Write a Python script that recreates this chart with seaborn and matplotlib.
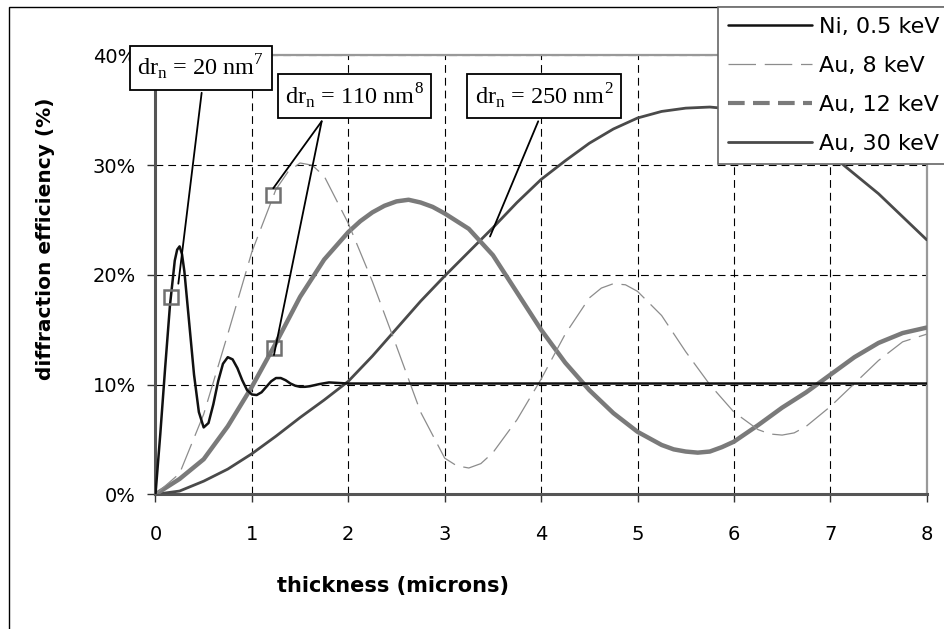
import matplotlib
matplotlib.use("Agg")
import matplotlib.pyplot as plt
import seaborn as sns
import pandas as pd
from matplotlib.lines import Line2D
from matplotlib.patches import Rectangle
from matplotlib.ticker import FuncFormatter

# ---------------- data ----------------
ni_x = [0, 0.05, 0.1, 0.15, 0.2, 0.225, 0.25, 0.275, 0.3, 0.35, 0.4, 0.45, 0.5,
        0.55, 0.6, 0.65, 0.7, 0.75, 0.8, 0.85, 0.9, 0.95, 1.0, 1.05, 1.1, 1.15,
        1.2, 1.25, 1.3, 1.35, 1.4, 1.45, 1.5, 1.55, 1.6, 1.7, 1.8, 1.9, 2.0,
        2.5, 3, 4, 5, 6, 7, 8]
ni_y = [0, 5.5, 11.5, 17.2, 21.3, 22.3, 22.6, 21.9, 20.3, 15.6, 10.9, 7.5, 6.1,
        6.5, 8.2, 10.3, 11.9, 12.5, 12.3, 11.5, 10.4, 9.5, 9.1, 9.05, 9.3, 9.8,
        10.3, 10.6, 10.6, 10.4, 10.1, 9.9, 9.8, 9.8, 9.85, 10.05, 10.2, 10.15, 10.1,
        10.1, 10.1, 10.1, 10.1, 10.1, 10.1, 10.1]

au8_x = [0, 0.25, 0.5, 0.75, 1.0, 1.25, 1.375, 1.5, 1.625, 1.75, 2.0, 2.25, 2.5,
         2.75, 3.0, 3.125, 3.25, 3.375, 3.5, 3.75, 4.0, 4.25, 4.5, 4.625, 4.75,
         4.875, 5.0, 5.25, 5.5, 5.75, 6.0, 6.25, 6.375, 6.5, 6.625, 6.75, 7.0,
         7.25, 7.5, 7.75, 8.0]
au8_y = [0, 1.9, 7.3, 14.6, 22.1, 27.8, 29.4, 30.2, 30.0, 29.0, 24.7, 19.4, 13.5,
         7.5, 3.3, 2.6, 2.4, 2.8, 3.8, 6.8, 10.5, 14.6, 17.9, 18.8, 19.2,
         19.1, 18.5, 16.3, 13.0, 10.0, 7.5, 5.9, 5.5, 5.4, 5.6, 6.2, 8.0,
         10.1, 12.2, 13.9, 14.6]

au12_x = [0, 0.25, 0.5, 0.75, 1.0, 1.25, 1.5, 1.75, 2.0, 2.125, 2.25, 2.375, 2.5,
          2.625, 2.75, 2.875, 3.0, 3.25, 3.5, 3.75, 4.0, 4.25, 4.5, 4.75, 5.0,
          5.25, 5.375, 5.5, 5.625, 5.75, 5.875, 6.0, 6.25, 6.5, 6.75, 7.0, 7.25,
          7.5, 7.75, 8.0]
au12_y = [0, 1.4, 3.2, 6.2, 9.8, 13.8, 18.0, 21.4, 23.9, 24.9, 25.7, 26.3, 26.7,
          26.85, 26.6, 26.2, 25.6, 24.2, 21.8, 18.4, 15.0, 12.0, 9.5, 7.4, 5.7,
          4.5, 4.1, 3.9, 3.8, 3.9, 4.3, 4.8, 6.3, 7.9, 9.3, 10.9, 12.5,
          13.8, 14.7, 15.2]

au30_x = [0, 0.25, 0.5, 0.75, 1.0, 1.25, 1.5, 1.75, 2.0, 2.25, 2.5, 2.75, 3.0,
          3.25, 3.5, 3.75, 4.0, 4.25, 4.5, 4.75, 5.0, 5.25, 5.5, 5.75, 6.0,
          6.25, 6.5, 6.75, 7.0, 7.25, 7.5, 7.75, 8.0]
au30_y = [0, 0.3, 1.2, 2.3, 3.7, 5.3, 7.0, 8.6, 10.3, 12.6, 15.1, 17.6, 19.9,
          22.1, 24.3, 26.6, 28.7, 30.4, 32.0, 33.3, 34.3, 34.9, 35.2, 35.3, 35.1,
          34.6, 33.8, 32.6, 31.0, 29.2, 27.4, 25.3, 23.2]

series_labels = ["Ni, 0.5 keV", "Au, 8 keV", "Au, 12 keV", "Au, 30 keV"]

marker_x = [0.158, 1.222, 1.23]
marker_y = [18.0, 27.3, 13.3]

box_texts = [r"dr$_\mathregular{n}$ = 20 nm$^\mathregular{7}$",
             r"dr$_\mathregular{n}$ = 110 nm$^\mathregular{8}$",
             r"dr$_\mathregular{n}$ = 250 nm$^\mathregular{2}$"]
box_pos = [(0.472, 38.9), (2.064, 36.3), (4.03, 36.3)]
# leader lines: (start at box, end at curve)
leaders = [((0.479, 36.6), (0.237, 19.2)),
           ((1.724, 34.0), (1.222, 27.9)),
           ((1.724, 34.0), (1.229, 12.7)),
           ((3.97, 34.0), (3.47, 23.5))]

x_ticks = [0, 1, 2, 3, 4, 5, 6, 7, 8]
y_ticks = [0, 10, 20, 30, 40]

# ---------------- style ----------------
sns.set_style("white")
plt.rcParams["font.family"] = ["DejaVu Sans"]
plt.rcParams["text.color"] = "black"
plt.rcParams["axes.labelcolor"] = "black"
plt.rcParams["xtick.color"] = "black"
plt.rcParams["ytick.color"] = "black"
plt.rcParams["mathtext.fontset"] = "custom"
plt.rcParams["mathtext.rm"] = "Liberation Serif"

fig = plt.figure(figsize=(9.44, 6.29), dpi=100)
ax = fig.add_axes([0.1647, 0.2141, 0.9817 - 0.1647, 0.9118 - 0.2141])

c_ni, c_8, c_12, c_30 = "#111111", "#8c8c8c", "#7a7a7a", "#4a4a4a"

sns.lineplot(x=au30_x, y=au30_y, ax=ax, color=c_30, lw=2.0,
             sort=False, estimator=None, zorder=4, solid_joinstyle="round")
sns.lineplot(x=au12_x, y=au12_y, ax=ax, color=c_12, lw=3.2, sort=False,
             estimator=None, zorder=4, solid_joinstyle="round")
sns.lineplot(x=au8_x, y=au8_y, ax=ax, color=c_8, lw=0.9, sort=False,
             estimator=None, zorder=4)
ax.lines[-1].set_dashes((22, 7))
sns.lineplot(x=ni_x, y=ni_y, ax=ax, color=c_ni, lw=1.8, sort=False,
             estimator=None, zorder=5, solid_joinstyle="round")

ax.plot(marker_x, marker_y, ls="none", marker="s", ms=10, mfc="none",
        mec="#707070", mew=1.8, zorder=6)

ax.set_xlim(0, 8)
ax.set_ylim(0, 40)
ax.set_xticks(x_ticks)
ax.set_yticks(y_ticks)
ax.yaxis.set_major_formatter(FuncFormatter(lambda v, p: f"{v:.0f}%"))
ax.grid(True, color="black", lw=0.8, ls=(0, (7, 4.5)))
ax.set_axisbelow(True)

for s in ["left", "bottom"]:
    ax.spines[s].set_color("#555555")
    ax.spines[s].set_linewidth(2.2)
for s in ["right", "top"]:
    ax.spines[s].set_color("#999999")
    ax.spines[s].set_linewidth(1.6)

ax.tick_params(axis="x", direction="out", length=6, width=1, color="#333333",
               labelsize=14, pad=16, bottom=True, labelcolor="black")
ax.tick_params(axis="y", direction="out", length=6, width=1, color="#333333",
               labelsize=14, pad=8, left=True, labelcolor="black")

ax.set_xlabel("thickness (microns)", fontsize=15, fontweight="bold")
ax.set_ylabel("diffraction efficiency (%)", fontsize=14.5, fontweight="bold")
ax.xaxis.set_label_coords(0.308, -0.186)
ax.xaxis.label.set_va("top")
ax.yaxis.set_label_coords(-0.130, 0.583)

for (s, e) in leaders:
    ax.annotate("", xy=e, xytext=s, xycoords="data", textcoords="data",
                arrowprops=dict(arrowstyle="-", color="black", lw=1.3,
                                shrinkA=0, shrinkB=0),
                annotation_clip=False, zorder=7)

for t, (bx, by) in zip(box_texts, box_pos):
    ax.text(bx, by, t, ha="center", va="center", fontsize=17.5,
            family="Liberation Serif", zorder=8, clip_on=False,
            bbox=dict(boxstyle="square,pad=0.3", fc="white", ec="black", lw=1.3))

# legend
handles = [Line2D([], [], color=c_ni, lw=1.8),
           Line2D([], [], color=c_8, lw=0.9, dashes=(22, 7)),
           Line2D([], [], color=c_12, lw=3.0, dashes=(4, 2)),
           Line2D([], [], color=c_30, lw=2.0)]
leg = fig.legend(handles, series_labels, loc="upper left",
                 bbox_to_anchor=(718 / 944, 1 - 7 / 629), fontsize=16,
                 handlelength=3.75, handletextpad=0.32, labelspacing=0.85,
                 borderpad=0.46, borderaxespad=0, fancybox=False,
                 framealpha=1, edgecolor="#666666")
leg.get_frame().set_linewidth(1.2)
for txt in leg.get_texts():
    txt.set_color("black")

fig.patches.append(Rectangle((9 / 944, -0.05), 1.2, 1 - 7 / 629 + 0.05,
                             transform=fig.transFigure, fill=False,
                             ec="black", lw=1.0, zorder=0))

fig.savefig("out.png", dpi=100)
